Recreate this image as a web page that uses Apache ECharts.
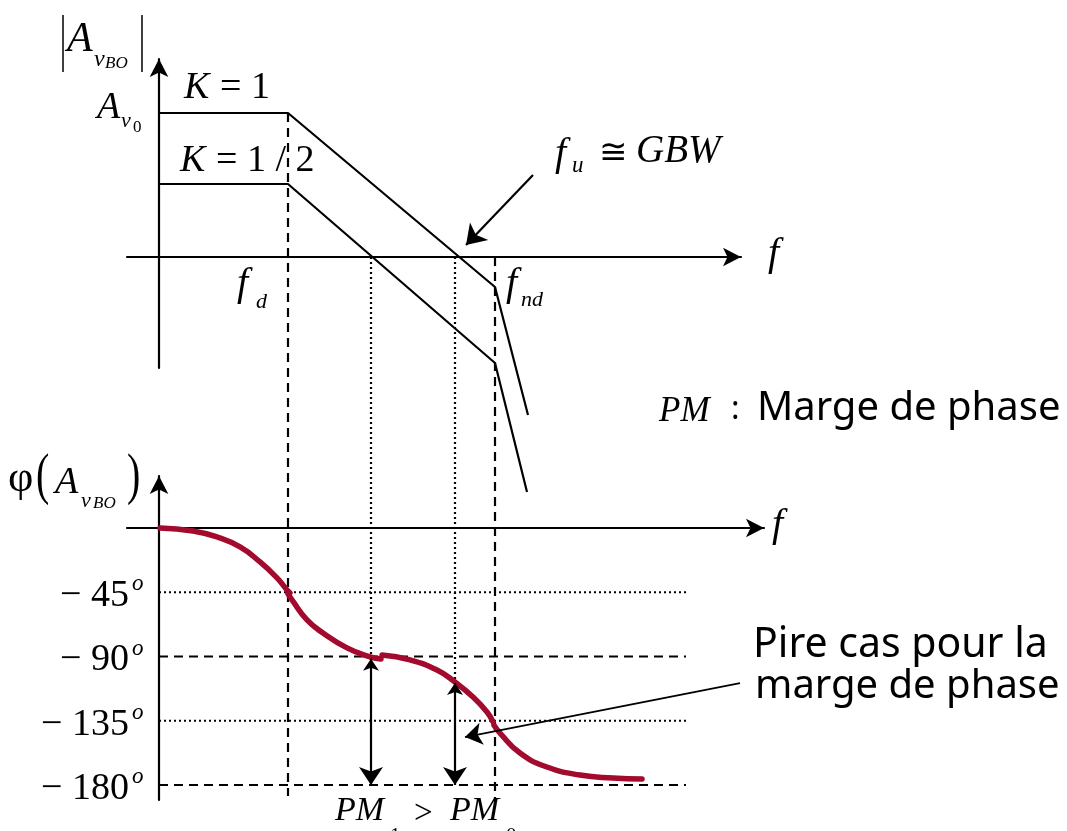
<!DOCTYPE html>
<html>
<head>
<meta charset="utf-8">
<script src="https://cdn.jsdelivr.net/npm/echarts@6/dist/echarts.min.js"></script>
<style>
  html, body { margin: 0; padding: 0; background: #ffffff; }
  #chart { width: 1067px; height: 831px; }
</style>
</head>
<body>
<div id="chart"></div>
<script>
// Frequency in arbitrary log-frequency units, origin on the vertical axes.
const fD = 12.9;         // dominant pole f_d
const fCrossHalf = 21.2; // unity-gain crossing for K = 1/2
const fU = 29.6;         // unity-gain crossing for K = 1 (f_u ~ GBW)
const fND = 33.6;        // non-dominant pole f_nd

// Asymptotic magnitude (arbitrary log-magnitude units, 0 = unity gain)
const magK1 = [[0, 14.4], [12.9, 14.4], [33.6, -3.0], [36.9, -15.8]];
const magKHalf = [[0, 7.3], [12.9, 7.3], [33.6, -10.6], [36.8, -23.5]];
const plateauK1 = 14.4;

// Phase of the open-loop gain (degrees), drawn as four arcs
const phaseArc1 = [[0.1, 0], [3.4, -2.1], [5.8, -6.3], [8.1, -13.3], [10.1, -23.8], [11.8, -35.0], [12.8, -43.4], [13.1, -45.4]];
const phaseArc2 = [[12.9, -46.2], [13.3, -50.4], [14.8, -64.4], [16.4, -73.5], [18.8, -84.0], [21.1, -90.3], [22.2, -91.7]];
const phaseArc3 = [[22.3, -89.0], [25.1, -92.4], [27.8, -99.5], [29.6, -107.9], [31.4, -118.4], [32.8, -128.9], [33.4, -135.8]];
const phaseArc4 = [[33.5, -138.2], [34.1, -143.6], [36.1, -157.6], [38.8, -167.4], [42.1, -173.0], [45.4, -175.1], [48.3, -175.8]];

// Phase at the two crossover frequencies
const phaseAtCrossHalf = -91.5;
const phaseAtFU = -108.5;

// Phase reference levels
const phaseTicks = [-45, -90, -135, -180];
const phaseTickLabels = ['45', '90', '135', '180'];
const phaseRefEnd = 52.7;

// Vertical guides continue down into the phase plot (magnitude units)
const guideBottomFD = -53.9;
const guideBottomFND = -54.3;
const guideBottomCross = -40.2;
const guideBottomFU = -42.6;

// Annotation arrows
const gbwArrow = [[37.4, 8.2], [30.7, 1.2]];
const worstArrow = [[58.1, -108.6], [30.6, -146.4]];

const SERIF = '"Liberation Serif", "Times New Roman", serif';
const SANS = '"Comic Sans MS", "Noto Sans", sans-serif';
const RED = '#a20a2e';

const chart = echarts.init(document.getElementById('chart'), null, { renderer: 'canvas' });

function axisCommon(extra) {
  return Object.assign({
    type: 'value',
    axisLine: {
      show: true, onZero: true,
      symbol: ['none', 'arrow'], symbolSize: [14, 18],
      lineStyle: { color: '#000', width: 2.2 }
    },
    axisTick: { show: false },
    axisLabel: { show: false },
    splitLine: { show: false }
  }, extra);
}

const solid = { color: '#000', width: 2.2 };
const dashed = { color: '#000', width: 2.2, type: [9, 6] };
const dotted = { color: '#000', width: 2.2, type: [2, 3] };

function seg(grid, data, lineStyle, z) {
  return {
    type: 'line', xAxisIndex: grid, yAxisIndex: grid, data: data,
    showSymbol: false, silent: true, clip: false, animation: false,
    lineStyle: lineStyle, z: z || 2
  };
}
function arc(data) {
  const s = seg(1, data, { color: RED, width: 5.5, cap: 'round', join: 'round' }, 5);
  s.smooth = 0.5;
  return s;
}
function arrow(grid, coords, ends, size, width) {
  return {
    type: 'lines', coordinateSystem: 'cartesian2d', xAxisIndex: grid, yAxisIndex: grid,
    data: [{ coords: coords }], symbol: ends, symbolSize: size,
    lineStyle: { color: '#000', width: width, curveness: 0, opacity: 1 },
    silent: true, animation: false, clip: false, z: 6
  };
}

const option = {
  backgroundColor: '#ffffff',
  animation: false,
  grid: [
    { left: 127, top: 59, width: 614, height: 309 },
    { left: 127, top: 476, width: 637, height: 324 }
  ],
  xAxis: [
    axisCommon({ gridIndex: 0, min: -3.2, max: 58.2 }),
    axisCommon({ gridIndex: 1, min: -3.2, max: 60.5 })
  ],
  yAxis: [
    axisCommon({ gridIndex: 0, min: -11.1, max: 19.8 }),
    axisCommon({ gridIndex: 1, min: -190.5, max: 36.4 })
  ],
  series: [
    seg(0, magK1, solid, 3),
    seg(0, magKHalf, solid, 3),
    seg(0, [[fD, plateauK1], [fD, guideBottomFD]], dashed),
    seg(0, [[fND, 0], [fND, guideBottomFND]], dashed),
    seg(0, [[fCrossHalf, 0], [fCrossHalf, guideBottomCross]], dotted),
    seg(0, [[fU, 0], [fU, guideBottomFU]], dotted),
    seg(1, [[0, phaseTicks[0]], [phaseRefEnd, phaseTicks[0]]], dotted),
    seg(1, [[0, phaseTicks[1]], [phaseRefEnd, phaseTicks[1]]], dashed),
    seg(1, [[0, phaseTicks[2]], [phaseRefEnd, phaseTicks[2]]], dotted),
    seg(1, [[0, phaseTicks[3]], [phaseRefEnd, phaseTicks[3]]], dashed),
    arc(phaseArc1), arc(phaseArc2), arc(phaseArc3), arc(phaseArc4),
    arrow(0, gbwArrow, ['none', 'arrow'], [13, 19], 2.2),
    arrow(1, worstArrow, ['none', 'arrow'], [12, 17], 1.8),
    arrow(1, [[fCrossHalf, phaseAtCrossHalf], [fCrossHalf, phaseTicks[3]]], ['arrow', 'arrow'], [12, 18], 2.2),
    arrow(1, [[fU, phaseAtFU], [fU, phaseTicks[3]]], ['arrow', 'arrow'], [12, 18], 2.2)
  ]
};
chart.setOption(option);

// ---- text annotations ----
function txt(x, y, text, size, opts) {
  opts = opts || {};
  return {
    type: 'text', x: x, y: y, silent: true, z: 20,
    scaleY: opts.scaleY || 1,
    style: {
      text: text, fill: '#000',
      font: (opts.italic ? 'italic ' : '') + size + 'px ' + (opts.family || SERIF),
      align: opts.align || 'left', verticalAlign: 'middle'
    }
  };
}
function vbar(x, y1, y2) {
  return { type: 'line', silent: true, z: 20, shape: { x1: x, y1: y1, x2: x, y2: y2 }, style: { stroke: '#000', lineWidth: 1.5 } };
}

const g = [];
// |A_vBO|
g.push(vbar(63, 15, 72), vbar(142, 15, 72));
g.push(txt(67, 40, 'A', 42, { italic: true }));
g.push(txt(94, 60, 'v', 24, { italic: true }));
g.push(txt(105, 64, 'BO', 17, { italic: true }));
// A_v0
g.push(txt(97, 108, 'A', 38, { italic: true }));
g.push(txt(121, 121, 'v', 22, { italic: true }));
g.push(txt(133, 128, '0', 17));
// K = 1, K = 1/2
g.push(txt(184, 88, 'K', 38, { italic: true }));
g.push(txt(220, 88, '= 1', 38));
g.push(txt(180, 161, 'K', 38, { italic: true }));
g.push(txt(216, 161, '= 1 / 2', 38));
// f_d, f_nd
g.push(txt(237, 284, 'f', 40, { italic: true }));
g.push(txt(256, 302, 'd', 22, { italic: true }));
g.push(txt(506, 284, 'f', 40, { italic: true }));
g.push(txt(521, 300, 'nd', 22, { italic: true }));
// f_u ≅ GBW
g.push(txt(555, 154, 'f', 40, { italic: true }));
g.push(txt(572, 166, 'u', 23, { italic: true }));
g.push(txt(599, 154, '≅', 34));
g.push(txt(636, 152, 'GBW', 39, { italic: true }));
// axis names f
g.push(txt(768, 254, 'f', 40, { italic: true }));
g.push(txt(772, 525, 'f', 40, { italic: true }));
// PM : Marge de phase
g.push(txt(659, 412, 'PM', 35, { italic: true }));
g.push(txt(731, 410, ':', 32, { family: SANS }));
g.push(txt(757, 409, 'Marge de phase', 40, { family: SANS }));
// φ(A_vBO)
g.push(txt(8, 479, 'φ', 44));
g.push(txt(36, 478, '(', 40, { scaleY: 1.45 }));
g.push(txt(55, 483, 'A', 38, { italic: true }));
g.push(txt(81, 501, 'v', 22, { italic: true }));
g.push(txt(93, 504, 'BO', 17, { italic: true }));
g.push(txt(127, 478, ')', 40, { scaleY: 1.45 }));
// phase tick labels, placed through the phase scale
phaseTicks.forEach(function (v, i) {
  const p = chart.convertToPixel({ gridIndex: 1 }, [0, v]);
  g.push(txt(p[0] - 30, p[1] + 4, '− ' + phaseTickLabels[i], 38, { align: 'right' }));
  g.push(txt(p[0] - 27, p[1] - 8, 'o', 23, { italic: true }));
});
// Pire cas pour la marge de phase
g.push(txt(753, 645, 'Pire cas pour la', 41, { family: SANS }));
g.push(txt(755, 687, 'marge de phase', 40, { family: SANS }));
// PM1 > PM0
g.push(txt(335, 811, 'PM', 34, { italic: true }));
g.push(txt(390, 836, '1', 21));
g.push(txt(414, 814, '>', 33));
g.push(txt(450, 811, 'PM', 34, { italic: true }));
g.push(txt(506, 836, '0', 21));

chart.setOption({ graphic: g });
</script>
</body>
</html>
